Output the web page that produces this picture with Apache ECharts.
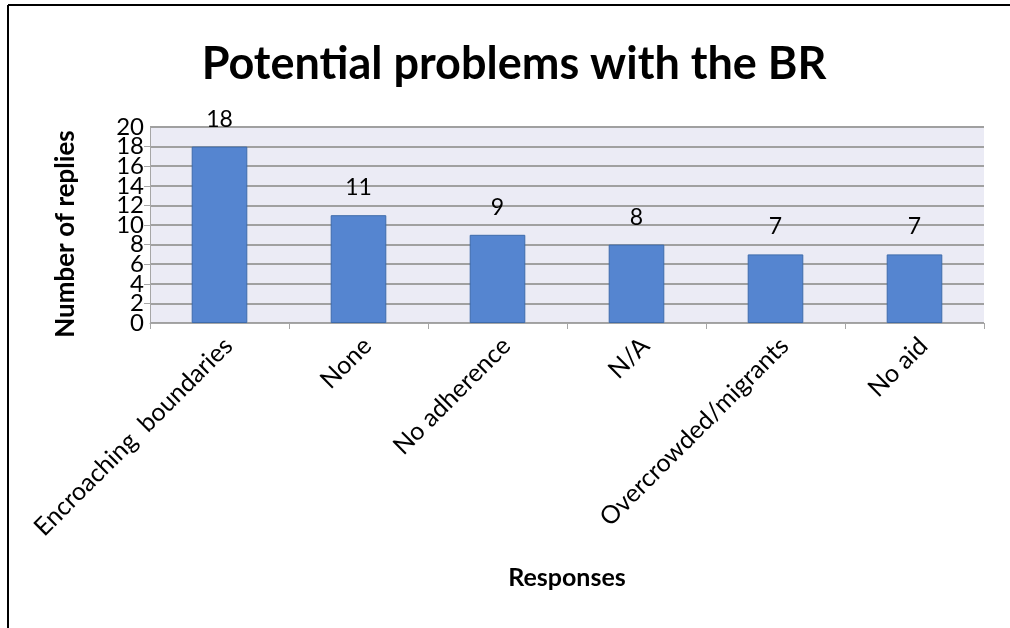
<!DOCTYPE html>
<html>
<head>
<meta charset="utf-8">
<script src="https://cdn.jsdelivr.net/npm/echarts@6/dist/echarts.min.js"></script>
<style>
  html, body { margin: 0; padding: 0; background: #fff; }
  #chart { width: 1010px; height: 628px; }
</style>
</head>
<body>
<div id="chart"></div>
<script>
// categories and counts
const categories = ['Encroaching  boundaries', 'None', 'No adherence', 'N/A', 'Overcrowded/migrants', 'No aid']
const replies = [18, 11, 9, 8, 7, 7]
// y scale
const yMin = 0
const yMax = 20
const yStep = 2

const FONT = 'Lato, "Liberation Sans", sans-serif'
const tickLabel = { fontSize: 24, color: '#000', margin: 6, fontFamily: FONT }

const chart = echarts.init(document.getElementById('chart'))
const option = {
  animation: false,
  textStyle: { fontFamily: FONT },
  // title drawn as graphic text so it can be centred at x=514
  graphic: [
    { type: 'line', shape: { x1: 8, y1: 5, x2: 1010, y2: 5 }, style: { stroke: '#000', lineWidth: 2 } },
    { type: 'line', shape: { x1: 8, y1: 5, x2: 8, y2: 628 }, style: { stroke: '#000', lineWidth: 2 } },
    {
      type: 'text',
      x: 514,
      y: 64,
      style: {
        text: 'Potential problems with the BR',
        fill: '#000',
        font: 'bold 45px ' + FONT,
        textAlign: 'center',
        textVerticalAlign: 'middle'
      }
    }
  ],
  grid: {
    left: 150,
    right: 26,
    top: 127,
    bottom: 305,
    show: true,
    backgroundColor: '#ebebf5',
    borderWidth: 0
  },
  xAxis: {
    type: 'category',
    data: categories,
    name: 'Responses',
    nameLocation: 'middle',
    nameGap: 242,
    nameTextStyle: { fontSize: 25, fontWeight: 'bold', color: '#000' },
    axisLine: { lineStyle: { color: '#a6a6a6', width: 1 } },
    axisTick: { show: true, length: 6, lineStyle: { color: '#a6a6a6' } },
    axisLabel: { rotate: 45, fontSize: 25, color: '#000', margin: 10, interval: 0, verticalAlign: 'top' }
  },
  yAxis: [
    {
      type: 'value',
      min: yMin,
      max: yMax,
      interval: yStep,
      name: 'Number of replies',
      nameLocation: 'middle',
      nameGap: 71,
      nameTextStyle: { fontSize: 26, fontWeight: 'bold', color: '#000', padding: [0, 18, 0, 0] },
      axisLine: { show: true, lineStyle: { color: '#a6a6a6', width: 1 } },
      axisTick: { show: true, length: 6, lineStyle: { color: '#a6a6a6' } },
      // inner labels (2..18); the crowded min/max are drawn by the second axis
      axisLabel: Object.assign({ showMinLabel: false, showMaxLabel: false, hideOverlap: false }, tickLabel),
      splitLine: { lineStyle: { color: '#a0a0a0', width: 2 } }
    },
    {
      type: 'value',
      position: 'left',
      min: yMin,
      max: yMax,
      interval: yStep,
      axisLine: { show: false },
      axisTick: { show: false },
      splitLine: { show: false },
      axisLabel: Object.assign({
        showMinLabel: true,
        showMaxLabel: true,
        hideOverlap: false,
        formatter: v => (v === yMin || v === yMax ? String(v) : '')
      }, tickLabel)
    }
  ],
  series: [{
    type: 'bar',
    data: replies,
    barWidth: '40%',
    itemStyle: { color: '#5585d0', borderColor: '#3e6bab', borderWidth: 1 },
    label: { show: true, position: 'top', distance: 16, fontSize: 23, color: '#000' }
  }]
}
chart.setOption(option)
</script>
</body>
</html>
